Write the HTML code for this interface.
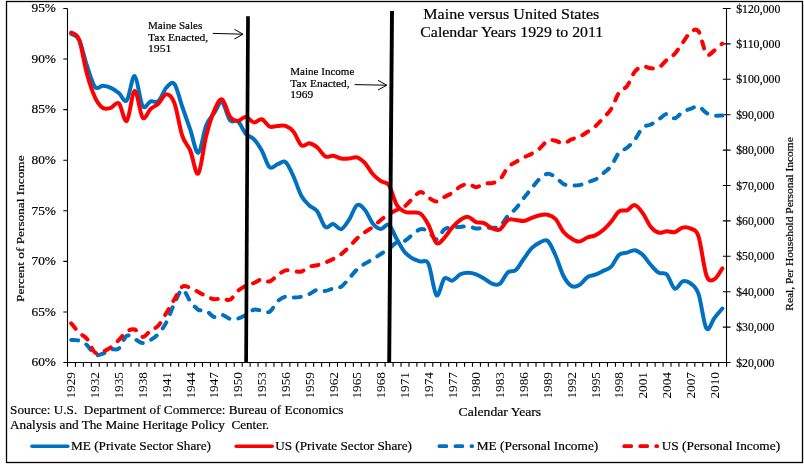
<!DOCTYPE html><html><head><meta charset="utf-8"><title>Maine versus United States</title>
<style>html,body{margin:0;padding:0;background:#fff;}svg{display:block;}text{font-family:'Liberation Serif', 'Times New Roman', serif;fill:#000;stroke:#000;stroke-width:0.2px;}</style></head><body>
<svg width="804" height="464" viewBox="0 0 804 464">
<rect x="0" y="0" width="804" height="464" fill="#fff"/>
<rect x="6.5" y="1.5" width="796" height="461" fill="none" stroke="#000" stroke-width="1.3"/>
<path d="M67.5,8.5 V362.5 M63.3,8.50 H67.5 M63.3,59.07 H67.5 M63.3,109.64 H67.5 M63.3,160.21 H67.5 M63.3,210.79 H67.5 M63.3,261.36 H67.5 M63.3,311.93 H67.5 M63.3,362.50 H67.5 M63.3,362.5 H730.5 M67.50,362.5 V366.7 M75.44,362.5 V366.7 M83.38,362.5 V366.7 M91.32,362.5 V366.7 M99.26,362.5 V366.7 M107.20,362.5 V366.7 M115.15,362.5 V366.7 M123.09,362.5 V366.7 M131.03,362.5 V366.7 M138.97,362.5 V366.7 M146.91,362.5 V366.7 M154.85,362.5 V366.7 M162.79,362.5 V366.7 M170.73,362.5 V366.7 M178.67,362.5 V366.7 M186.61,362.5 V366.7 M194.56,362.5 V366.7 M202.50,362.5 V366.7 M210.44,362.5 V366.7 M218.38,362.5 V366.7 M226.32,362.5 V366.7 M234.26,362.5 V366.7 M242.20,362.5 V366.7 M250.14,362.5 V366.7 M258.08,362.5 V366.7 M266.02,362.5 V366.7 M273.97,362.5 V366.7 M281.91,362.5 V366.7 M289.85,362.5 V366.7 M297.79,362.5 V366.7 M305.73,362.5 V366.7 M313.67,362.5 V366.7 M321.61,362.5 V366.7 M329.55,362.5 V366.7 M337.49,362.5 V366.7 M345.43,362.5 V366.7 M353.37,362.5 V366.7 M361.32,362.5 V366.7 M369.26,362.5 V366.7 M377.20,362.5 V366.7 M385.14,362.5 V366.7 M393.08,362.5 V366.7 M401.02,362.5 V366.7 M408.96,362.5 V366.7 M416.90,362.5 V366.7 M424.84,362.5 V366.7 M432.78,362.5 V366.7 M440.73,362.5 V366.7 M448.67,362.5 V366.7 M456.61,362.5 V366.7 M464.55,362.5 V366.7 M472.49,362.5 V366.7 M480.43,362.5 V366.7 M488.37,362.5 V366.7 M496.31,362.5 V366.7 M504.25,362.5 V366.7 M512.19,362.5 V366.7 M520.13,362.5 V366.7 M528.08,362.5 V366.7 M536.02,362.5 V366.7 M543.96,362.5 V366.7 M551.90,362.5 V366.7 M559.84,362.5 V366.7 M567.78,362.5 V366.7 M575.72,362.5 V366.7 M583.66,362.5 V366.7 M591.60,362.5 V366.7 M599.54,362.5 V366.7 M607.49,362.5 V366.7 M615.43,362.5 V366.7 M623.37,362.5 V366.7 M631.31,362.5 V366.7 M639.25,362.5 V366.7 M647.19,362.5 V366.7 M655.13,362.5 V366.7 M663.07,362.5 V366.7 M671.01,362.5 V366.7 M678.95,362.5 V366.7 M686.90,362.5 V366.7 M694.84,362.5 V366.7 M702.78,362.5 V366.7 M710.72,362.5 V366.7 M718.66,362.5 V366.7 M726.60,362.5 V366.7 M726.5,8.5 V362.5 M722.8,8.50 H730.6 M722.8,43.90 H730.6 M722.8,79.30 H730.6 M722.8,114.70 H730.6 M722.8,150.10 H730.6 M722.8,185.50 H730.6 M722.8,220.90 H730.6 M722.8,256.30 H730.6 M722.8,291.70 H730.6 M722.8,327.10 H730.6 M722.8,362.50 H730.6" stroke="#000" stroke-width="1.1" fill="none"/>
<text x="56" y="12.30" font-size="13.3" text-anchor="end" textLength="24.5" lengthAdjust="spacingAndGlyphs">95%</text>
<text x="56" y="62.87" font-size="13.3" text-anchor="end" textLength="24.5" lengthAdjust="spacingAndGlyphs">90%</text>
<text x="56" y="113.44" font-size="13.3" text-anchor="end" textLength="24.5" lengthAdjust="spacingAndGlyphs">85%</text>
<text x="56" y="164.01" font-size="13.3" text-anchor="end" textLength="24.5" lengthAdjust="spacingAndGlyphs">80%</text>
<text x="56" y="214.59" font-size="13.3" text-anchor="end" textLength="24.5" lengthAdjust="spacingAndGlyphs">75%</text>
<text x="56" y="265.16" font-size="13.3" text-anchor="end" textLength="24.5" lengthAdjust="spacingAndGlyphs">70%</text>
<text x="56" y="315.73" font-size="13.3" text-anchor="end" textLength="24.5" lengthAdjust="spacingAndGlyphs">65%</text>
<text x="56" y="366.30" font-size="13.3" text-anchor="end" textLength="24.5" lengthAdjust="spacingAndGlyphs">60%</text>
<text x="736.2" y="12.50" font-size="13.3" textLength="44.2" lengthAdjust="spacingAndGlyphs">$120,000</text>
<text x="736.2" y="47.90" font-size="13.3" textLength="44.2" lengthAdjust="spacingAndGlyphs">$110,000</text>
<text x="736.2" y="83.30" font-size="13.3" textLength="44.2" lengthAdjust="spacingAndGlyphs">$100,000</text>
<text x="736.2" y="118.70" font-size="13.3" textLength="38.2" lengthAdjust="spacingAndGlyphs">$90,000</text>
<text x="736.2" y="154.10" font-size="13.3" textLength="38.2" lengthAdjust="spacingAndGlyphs">$80,000</text>
<text x="736.2" y="189.50" font-size="13.3" textLength="38.2" lengthAdjust="spacingAndGlyphs">$70,000</text>
<text x="736.2" y="224.90" font-size="13.3" textLength="38.2" lengthAdjust="spacingAndGlyphs">$60,000</text>
<text x="736.2" y="260.30" font-size="13.3" textLength="38.2" lengthAdjust="spacingAndGlyphs">$50,000</text>
<text x="736.2" y="295.70" font-size="13.3" textLength="38.2" lengthAdjust="spacingAndGlyphs">$40,000</text>
<text x="736.2" y="331.10" font-size="13.3" textLength="38.2" lengthAdjust="spacingAndGlyphs">$30,000</text>
<text x="736.2" y="366.50" font-size="13.3" textLength="38.2" lengthAdjust="spacingAndGlyphs">$20,000</text>
<text transform="translate(71.17,372) rotate(-90)" font-family="&#39;DejaVu Sans&#39;, &#39;Liberation Sans&#39;, sans-serif" font-size="12" style="stroke:none" text-anchor="end" textLength="26.5" lengthAdjust="spacingAndGlyphs" x="0" y="4.3">1929</text>
<text transform="translate(94.99,372) rotate(-90)" font-family="&#39;DejaVu Sans&#39;, &#39;Liberation Sans&#39;, sans-serif" font-size="12" style="stroke:none" text-anchor="end" textLength="26.5" lengthAdjust="spacingAndGlyphs" x="0" y="4.3">1932</text>
<text transform="translate(118.82,372) rotate(-90)" font-family="&#39;DejaVu Sans&#39;, &#39;Liberation Sans&#39;, sans-serif" font-size="12" style="stroke:none" text-anchor="end" textLength="26.5" lengthAdjust="spacingAndGlyphs" x="0" y="4.3">1935</text>
<text transform="translate(142.64,372) rotate(-90)" font-family="&#39;DejaVu Sans&#39;, &#39;Liberation Sans&#39;, sans-serif" font-size="12" style="stroke:none" text-anchor="end" textLength="26.5" lengthAdjust="spacingAndGlyphs" x="0" y="4.3">1938</text>
<text transform="translate(166.46,372) rotate(-90)" font-family="&#39;DejaVu Sans&#39;, &#39;Liberation Sans&#39;, sans-serif" font-size="12" style="stroke:none" text-anchor="end" textLength="26.5" lengthAdjust="spacingAndGlyphs" x="0" y="4.3">1941</text>
<text transform="translate(190.28,372) rotate(-90)" font-family="&#39;DejaVu Sans&#39;, &#39;Liberation Sans&#39;, sans-serif" font-size="12" style="stroke:none" text-anchor="end" textLength="26.5" lengthAdjust="spacingAndGlyphs" x="0" y="4.3">1944</text>
<text transform="translate(214.11,372) rotate(-90)" font-family="&#39;DejaVu Sans&#39;, &#39;Liberation Sans&#39;, sans-serif" font-size="12" style="stroke:none" text-anchor="end" textLength="26.5" lengthAdjust="spacingAndGlyphs" x="0" y="4.3">1947</text>
<text transform="translate(237.93,372) rotate(-90)" font-family="&#39;DejaVu Sans&#39;, &#39;Liberation Sans&#39;, sans-serif" font-size="12" style="stroke:none" text-anchor="end" textLength="26.5" lengthAdjust="spacingAndGlyphs" x="0" y="4.3">1950</text>
<text transform="translate(261.75,372) rotate(-90)" font-family="&#39;DejaVu Sans&#39;, &#39;Liberation Sans&#39;, sans-serif" font-size="12" style="stroke:none" text-anchor="end" textLength="26.5" lengthAdjust="spacingAndGlyphs" x="0" y="4.3">1953</text>
<text transform="translate(285.58,372) rotate(-90)" font-family="&#39;DejaVu Sans&#39;, &#39;Liberation Sans&#39;, sans-serif" font-size="12" style="stroke:none" text-anchor="end" textLength="26.5" lengthAdjust="spacingAndGlyphs" x="0" y="4.3">1956</text>
<text transform="translate(309.40,372) rotate(-90)" font-family="&#39;DejaVu Sans&#39;, &#39;Liberation Sans&#39;, sans-serif" font-size="12" style="stroke:none" text-anchor="end" textLength="26.5" lengthAdjust="spacingAndGlyphs" x="0" y="4.3">1959</text>
<text transform="translate(333.22,372) rotate(-90)" font-family="&#39;DejaVu Sans&#39;, &#39;Liberation Sans&#39;, sans-serif" font-size="12" style="stroke:none" text-anchor="end" textLength="26.5" lengthAdjust="spacingAndGlyphs" x="0" y="4.3">1962</text>
<text transform="translate(357.05,372) rotate(-90)" font-family="&#39;DejaVu Sans&#39;, &#39;Liberation Sans&#39;, sans-serif" font-size="12" style="stroke:none" text-anchor="end" textLength="26.5" lengthAdjust="spacingAndGlyphs" x="0" y="4.3">1965</text>
<text transform="translate(380.87,372) rotate(-90)" font-family="&#39;DejaVu Sans&#39;, &#39;Liberation Sans&#39;, sans-serif" font-size="12" style="stroke:none" text-anchor="end" textLength="26.5" lengthAdjust="spacingAndGlyphs" x="0" y="4.3">1968</text>
<text transform="translate(404.69,372) rotate(-90)" font-family="&#39;DejaVu Sans&#39;, &#39;Liberation Sans&#39;, sans-serif" font-size="12" style="stroke:none" text-anchor="end" textLength="26.5" lengthAdjust="spacingAndGlyphs" x="0" y="4.3">1971</text>
<text transform="translate(428.51,372) rotate(-90)" font-family="&#39;DejaVu Sans&#39;, &#39;Liberation Sans&#39;, sans-serif" font-size="12" style="stroke:none" text-anchor="end" textLength="26.5" lengthAdjust="spacingAndGlyphs" x="0" y="4.3">1974</text>
<text transform="translate(452.34,372) rotate(-90)" font-family="&#39;DejaVu Sans&#39;, &#39;Liberation Sans&#39;, sans-serif" font-size="12" style="stroke:none" text-anchor="end" textLength="26.5" lengthAdjust="spacingAndGlyphs" x="0" y="4.3">1977</text>
<text transform="translate(476.16,372) rotate(-90)" font-family="&#39;DejaVu Sans&#39;, &#39;Liberation Sans&#39;, sans-serif" font-size="12" style="stroke:none" text-anchor="end" textLength="26.5" lengthAdjust="spacingAndGlyphs" x="0" y="4.3">1980</text>
<text transform="translate(499.98,372) rotate(-90)" font-family="&#39;DejaVu Sans&#39;, &#39;Liberation Sans&#39;, sans-serif" font-size="12" style="stroke:none" text-anchor="end" textLength="26.5" lengthAdjust="spacingAndGlyphs" x="0" y="4.3">1983</text>
<text transform="translate(523.81,372) rotate(-90)" font-family="&#39;DejaVu Sans&#39;, &#39;Liberation Sans&#39;, sans-serif" font-size="12" style="stroke:none" text-anchor="end" textLength="26.5" lengthAdjust="spacingAndGlyphs" x="0" y="4.3">1986</text>
<text transform="translate(547.63,372) rotate(-90)" font-family="&#39;DejaVu Sans&#39;, &#39;Liberation Sans&#39;, sans-serif" font-size="12" style="stroke:none" text-anchor="end" textLength="26.5" lengthAdjust="spacingAndGlyphs" x="0" y="4.3">1989</text>
<text transform="translate(571.45,372) rotate(-90)" font-family="&#39;DejaVu Sans&#39;, &#39;Liberation Sans&#39;, sans-serif" font-size="12" style="stroke:none" text-anchor="end" textLength="26.5" lengthAdjust="spacingAndGlyphs" x="0" y="4.3">1992</text>
<text transform="translate(595.27,372) rotate(-90)" font-family="&#39;DejaVu Sans&#39;, &#39;Liberation Sans&#39;, sans-serif" font-size="12" style="stroke:none" text-anchor="end" textLength="26.5" lengthAdjust="spacingAndGlyphs" x="0" y="4.3">1995</text>
<text transform="translate(619.10,372) rotate(-90)" font-family="&#39;DejaVu Sans&#39;, &#39;Liberation Sans&#39;, sans-serif" font-size="12" style="stroke:none" text-anchor="end" textLength="26.5" lengthAdjust="spacingAndGlyphs" x="0" y="4.3">1998</text>
<text transform="translate(642.92,372) rotate(-90)" font-family="&#39;DejaVu Sans&#39;, &#39;Liberation Sans&#39;, sans-serif" font-size="12" style="stroke:none" text-anchor="end" textLength="26.5" lengthAdjust="spacingAndGlyphs" x="0" y="4.3">2001</text>
<text transform="translate(666.74,372) rotate(-90)" font-family="&#39;DejaVu Sans&#39;, &#39;Liberation Sans&#39;, sans-serif" font-size="12" style="stroke:none" text-anchor="end" textLength="26.5" lengthAdjust="spacingAndGlyphs" x="0" y="4.3">2004</text>
<text transform="translate(690.57,372) rotate(-90)" font-family="&#39;DejaVu Sans&#39;, &#39;Liberation Sans&#39;, sans-serif" font-size="12" style="stroke:none" text-anchor="end" textLength="26.5" lengthAdjust="spacingAndGlyphs" x="0" y="4.3">2007</text>
<text transform="translate(714.39,372) rotate(-90)" font-family="&#39;DejaVu Sans&#39;, &#39;Liberation Sans&#39;, sans-serif" font-size="12" style="stroke:none" text-anchor="end" textLength="26.5" lengthAdjust="spacingAndGlyphs" x="0" y="4.3">2010</text>
<path d="M71.17,340.00 C72.49,340.10 76.46,339.73 79.11,340.60 C81.76,341.47 84.41,342.87 87.05,345.20 C89.70,347.53 92.35,353.20 94.99,354.60 C97.64,356.00 100.29,354.47 102.93,353.60 C105.58,352.73 108.23,350.27 110.88,349.40 C113.52,348.53 116.17,350.67 118.82,348.40 C121.46,346.13 124.11,337.37 126.76,335.80 C129.40,334.23 132.05,337.78 134.70,339.00 C137.35,340.22 139.99,342.93 142.64,343.10 C145.29,343.27 147.93,341.57 150.58,340.00 C153.23,338.43 155.87,336.67 158.52,333.70 C161.17,330.73 163.82,327.25 166.46,322.20 C169.11,317.15 171.76,308.80 174.40,303.40 C177.05,298.00 179.70,290.15 182.34,289.80 C184.99,289.45 187.64,297.98 190.28,301.30 C192.93,304.62 195.58,308.13 198.23,309.70 C200.87,311.27 203.52,309.48 206.17,310.70 C208.81,311.92 211.46,316.30 214.11,317.00 C216.75,317.70 219.40,314.60 222.05,314.90 C224.70,315.20 227.34,318.20 229.99,318.80 C232.64,319.40 235.28,319.15 237.93,318.50 C240.58,317.85 243.22,316.37 245.87,314.90 C248.52,313.43 251.17,310.40 253.81,309.70 C256.46,309.00 259.11,310.35 261.75,310.70 C264.40,311.05 267.05,313.37 269.69,311.80 C272.34,310.23 274.99,303.82 277.64,301.30 C280.28,298.78 282.93,297.32 285.58,296.70 C288.22,296.08 290.87,297.60 293.52,297.60 C296.16,297.60 298.81,297.30 301.46,296.70 C304.11,296.10 306.75,295.15 309.40,294.00 C312.05,292.85 314.69,290.32 317.34,289.80 C319.99,289.28 322.63,291.13 325.28,290.90 C327.93,290.67 330.58,289.10 333.22,288.40 C335.87,287.70 338.52,288.37 341.16,286.70 C343.81,285.03 346.46,281.28 349.10,278.40 C351.75,275.52 354.40,271.87 357.05,269.40 C359.69,266.93 362.34,265.30 364.99,263.60 C367.63,261.90 370.28,260.80 372.93,259.20 C375.57,257.60 378.22,255.75 380.87,254.00 C383.52,252.25 386.16,250.62 388.81,248.70 C391.46,246.78 394.10,243.78 396.75,242.50 C399.40,241.22 402.04,242.33 404.69,241.00 C407.34,239.67 409.98,236.47 412.63,234.50 C415.28,232.53 417.93,229.72 420.57,229.20 C423.22,228.68 425.87,229.72 428.51,231.40 C431.16,233.08 433.81,239.63 436.45,239.30 C439.10,238.97 441.75,231.40 444.40,229.40 C447.04,227.40 449.69,227.72 452.34,227.30 C454.98,226.88 457.63,227.07 460.28,226.90 C462.92,226.73 465.57,226.05 468.22,226.30 C470.87,226.55 473.51,228.17 476.16,228.40 C478.81,228.63 481.45,227.82 484.10,227.70 C486.75,227.58 489.39,227.93 492.04,227.70 C494.69,227.47 497.34,228.28 499.98,226.30 C502.63,224.32 505.28,218.77 507.92,215.80 C510.57,212.83 513.22,211.47 515.86,208.50 C518.51,205.53 521.16,201.38 523.81,198.00 C526.45,194.62 529.10,191.40 531.75,188.20 C534.39,185.00 537.04,181.20 539.69,178.80 C542.33,176.40 544.98,174.07 547.63,173.80 C550.28,173.53 552.92,175.50 555.57,177.20 C558.22,178.90 560.86,182.63 563.51,184.00 C566.16,185.37 568.80,185.22 571.45,185.40 C574.10,185.58 576.75,185.63 579.39,185.10 C582.04,184.57 584.69,183.12 587.33,182.20 C589.98,181.28 592.63,181.08 595.27,179.60 C597.92,178.12 600.57,175.57 603.22,173.30 C605.86,171.03 608.51,169.48 611.16,166.00 C613.80,162.52 616.45,155.43 619.10,152.40 C621.74,149.37 624.39,149.97 627.04,147.80 C629.68,145.63 632.33,142.80 634.98,139.40 C637.63,136.00 640.27,129.88 642.92,127.40 C645.57,124.92 648.21,125.85 650.86,124.50 C653.51,123.15 656.15,121.05 658.80,119.30 C661.45,117.55 664.10,114.18 666.74,114.00 C669.39,113.82 672.04,118.55 674.68,118.20 C677.33,117.85 679.98,113.47 682.62,111.90 C685.27,110.33 687.92,109.73 690.57,108.80 C693.21,107.87 695.86,105.60 698.51,106.30 C701.15,107.00 703.80,111.47 706.45,113.00 C709.09,114.53 711.74,115.08 714.39,115.50 C717.04,115.92 721.01,115.50 722.33,115.50" fill="none" stroke="#0070c0" stroke-width="4.0" stroke-linecap="round" stroke-linejoin="round" stroke-dasharray="7 9.2"/>
<path d="M71.17,323.30 C72.49,324.87 76.46,330.08 79.11,332.70 C81.76,335.32 84.41,335.70 87.05,339.00 C89.70,342.30 92.35,350.42 94.99,352.50 C97.64,354.58 100.29,352.37 102.93,351.50 C105.58,350.63 108.23,349.22 110.88,347.30 C113.52,345.38 116.17,342.62 118.82,340.00 C121.46,337.38 124.11,333.35 126.76,331.60 C129.40,329.85 132.05,328.62 134.70,329.50 C137.35,330.38 139.99,336.72 142.64,336.90 C145.29,337.08 147.93,332.52 150.58,330.60 C153.23,328.68 155.87,328.37 158.52,325.40 C161.17,322.43 163.82,317.15 166.46,312.80 C169.11,308.45 171.76,303.65 174.40,299.30 C177.05,294.95 179.70,288.62 182.34,286.70 C184.99,284.78 187.64,286.92 190.28,287.80 C192.93,288.68 195.58,290.62 198.23,292.00 C200.87,293.38 203.52,294.88 206.17,296.10 C208.81,297.32 211.46,298.95 214.11,299.30 C216.75,299.65 219.40,298.12 222.05,298.20 C224.70,298.28 227.34,301.02 229.99,299.80 C232.64,298.58 235.28,293.25 237.93,290.90 C240.58,288.55 243.22,287.02 245.87,285.70 C248.52,284.38 251.17,284.05 253.81,283.00 C256.46,281.95 259.11,279.65 261.75,279.40 C264.40,279.15 267.05,282.22 269.69,281.50 C272.34,280.78 274.99,276.95 277.64,275.10 C280.28,273.25 282.93,271.08 285.58,270.40 C288.22,269.72 290.87,270.82 293.52,271.00 C296.16,271.18 298.81,272.22 301.46,271.50 C304.11,270.78 306.75,267.75 309.40,266.70 C312.05,265.65 314.69,265.90 317.34,265.20 C319.99,264.50 322.63,263.53 325.28,262.50 C327.93,261.47 330.58,260.38 333.22,259.00 C335.87,257.62 338.52,256.22 341.16,254.20 C343.81,252.18 346.46,249.52 349.10,246.90 C351.75,244.28 354.40,240.95 357.05,238.50 C359.69,236.05 362.34,234.13 364.99,232.20 C367.63,230.27 370.28,228.93 372.93,226.90 C375.57,224.87 378.22,222.12 380.87,220.00 C383.52,217.88 386.16,215.87 388.81,214.20 C391.46,212.53 394.10,211.30 396.75,210.00 C399.40,208.70 402.04,208.32 404.69,206.40 C407.34,204.48 409.98,200.90 412.63,198.50 C415.28,196.10 417.93,192.15 420.57,192.00 C423.22,191.85 425.87,196.00 428.51,197.60 C431.16,199.20 433.81,201.70 436.45,201.60 C439.10,201.50 441.75,198.47 444.40,197.00 C447.04,195.53 449.69,194.53 452.34,192.80 C454.98,191.07 457.63,188.10 460.28,186.60 C462.92,185.10 465.57,183.70 468.22,183.80 C470.87,183.90 473.51,187.25 476.16,187.20 C478.81,187.15 481.45,184.18 484.10,183.50 C486.75,182.82 489.39,183.78 492.04,183.10 C494.69,182.42 497.34,182.03 499.98,179.40 C502.63,176.77 505.28,170.20 507.92,167.30 C510.57,164.40 513.22,163.65 515.86,162.00 C518.51,160.35 521.16,158.78 523.81,157.40 C526.45,156.02 529.10,155.18 531.75,153.70 C534.39,152.22 537.04,150.67 539.69,148.50 C542.33,146.33 544.98,142.00 547.63,140.70 C550.28,139.40 552.92,140.22 555.57,140.70 C558.22,141.18 560.86,143.82 563.51,143.60 C566.16,143.38 568.80,140.53 571.45,139.40 C574.10,138.27 576.75,138.03 579.39,136.80 C582.04,135.57 584.69,133.75 587.33,132.00 C589.98,130.25 592.63,128.63 595.27,126.30 C597.92,123.97 600.57,120.88 603.22,118.00 C605.86,115.12 608.51,113.25 611.16,109.00 C613.80,104.75 616.45,96.33 619.10,92.50 C621.74,88.67 624.39,89.50 627.04,86.00 C629.68,82.50 632.33,74.77 634.98,71.50 C637.63,68.23 640.27,66.93 642.92,66.40 C645.57,65.87 648.21,68.12 650.86,68.30 C653.51,68.48 656.15,68.88 658.80,67.50 C661.45,66.12 664.10,62.27 666.74,60.00 C669.39,57.73 672.04,56.77 674.68,53.90 C677.33,51.03 679.98,46.38 682.62,42.80 C685.27,39.22 687.92,34.32 690.57,32.40 C693.21,30.48 695.86,27.70 698.51,31.30 C701.15,34.90 703.80,50.80 706.45,54.00 C709.09,57.20 711.74,52.25 714.39,50.50 C717.04,48.75 721.01,44.67 722.33,43.50" fill="none" stroke="#ff0000" stroke-width="4.0" stroke-linecap="round" stroke-linejoin="round" stroke-dasharray="7 9.2"/>
<path d="M71.17,34.00 C72.49,34.97 76.46,34.47 79.11,39.80 C81.76,45.13 84.41,58.15 87.05,66.00 C89.70,73.85 92.35,83.60 94.99,86.90 C97.64,90.20 100.29,85.63 102.93,85.80 C105.58,85.97 108.23,86.70 110.88,87.90 C113.52,89.10 116.17,90.92 118.82,93.00 C121.46,95.08 124.11,103.23 126.76,100.40 C129.40,97.57 132.05,75.07 134.70,76.00 C137.35,76.93 139.99,101.75 142.64,106.00 C145.29,110.25 147.93,102.33 150.58,101.50 C153.23,100.67 155.87,103.33 158.52,101.00 C161.17,98.67 163.82,90.33 166.46,87.50 C169.11,84.67 171.76,80.75 174.40,84.00 C177.05,87.25 179.70,99.38 182.34,107.00 C184.99,114.62 187.64,122.08 190.28,129.70 C192.93,137.32 195.58,153.40 198.23,152.70 C200.87,152.00 203.52,132.12 206.17,125.50 C208.81,118.88 211.46,116.83 214.11,113.00 C216.75,109.17 219.40,101.28 222.05,102.50 C224.70,103.72 227.34,117.17 229.99,120.30 C232.64,123.43 235.28,119.03 237.93,121.30 C240.58,123.57 243.22,130.93 245.87,133.90 C248.52,136.87 251.17,136.32 253.81,139.10 C256.46,141.88 259.11,145.90 261.75,150.60 C264.40,155.30 267.05,165.03 269.69,167.30 C272.34,169.57 274.99,165.07 277.64,164.20 C280.28,163.33 282.93,160.05 285.58,162.10 C288.22,164.15 290.87,170.85 293.52,176.50 C296.16,182.15 298.81,191.17 301.46,196.00 C304.11,200.83 306.75,202.92 309.40,205.50 C312.05,208.08 314.69,207.92 317.34,211.50 C319.99,215.08 322.63,224.93 325.28,227.00 C327.93,229.07 330.58,223.55 333.22,223.90 C335.87,224.25 338.52,229.80 341.16,229.10 C343.81,228.40 346.46,223.70 349.10,219.70 C351.75,215.70 354.40,206.72 357.05,205.10 C359.69,203.48 362.34,206.90 364.99,210.00 C367.63,213.10 370.28,220.53 372.93,223.70 C375.57,226.87 378.22,228.82 380.87,229.00 C383.52,229.18 386.16,223.13 388.81,224.80 C391.46,226.47 394.10,234.47 396.75,239.00 C399.40,243.53 402.04,248.75 404.69,252.00 C407.34,255.25 409.98,256.92 412.63,258.50 C415.28,260.08 417.93,260.58 420.57,261.50 C423.22,262.42 425.87,258.38 428.51,264.00 C431.16,269.62 433.81,292.78 436.45,295.20 C439.10,297.62 441.75,280.93 444.40,278.50 C447.04,276.07 449.69,281.30 452.34,280.60 C454.98,279.90 457.63,275.62 460.28,274.30 C462.92,272.98 465.57,272.70 468.22,272.70 C470.87,272.70 473.51,273.33 476.16,274.30 C478.81,275.27 481.45,276.93 484.10,278.50 C486.75,280.07 489.39,282.83 492.04,283.70 C494.69,284.57 497.34,285.62 499.98,283.70 C502.63,281.78 505.28,274.47 507.92,272.20 C510.57,269.93 513.22,272.35 515.86,270.10 C518.51,267.85 521.16,262.35 523.81,258.70 C526.45,255.05 529.10,250.88 531.75,248.20 C534.39,245.52 537.04,243.82 539.69,242.60 C542.33,241.38 544.98,238.75 547.63,240.90 C550.28,243.05 552.92,249.65 555.57,255.50 C558.22,261.35 560.86,270.92 563.51,276.00 C566.16,281.08 568.80,284.50 571.45,286.00 C574.10,287.50 576.75,286.47 579.39,285.00 C582.04,283.53 584.69,278.92 587.33,277.20 C589.98,275.48 592.63,275.75 595.27,274.70 C597.92,273.65 600.57,272.23 603.22,270.90 C605.86,269.57 608.51,269.40 611.16,266.70 C613.80,264.00 616.45,257.05 619.10,254.70 C621.74,252.35 624.39,253.35 627.04,252.60 C629.68,251.85 632.33,249.80 634.98,250.20 C637.63,250.60 640.27,252.53 642.92,255.00 C645.57,257.47 648.21,262.03 650.86,265.00 C653.51,267.97 656.15,271.23 658.80,272.80 C661.45,274.37 664.10,271.75 666.74,274.40 C669.39,277.05 672.04,287.55 674.68,288.70 C677.33,289.85 679.98,282.18 682.62,281.30 C685.27,280.42 687.92,281.30 690.57,283.40 C693.21,285.50 695.86,286.38 698.51,293.90 C701.15,301.42 703.80,324.50 706.45,328.50 C709.09,332.50 711.74,321.23 714.39,317.90 C717.04,314.57 721.01,310.07 722.33,308.50" fill="none" stroke="#0070c0" stroke-width="4.0" stroke-linecap="round" stroke-linejoin="round"/>
<path d="M71.17,32.50 C72.49,33.72 76.46,32.83 79.11,39.80 C81.76,46.77 84.41,64.72 87.05,74.30 C89.70,83.88 92.35,91.68 94.99,97.30 C97.64,102.92 100.29,106.25 102.93,108.00 C105.58,109.75 108.23,108.58 110.88,107.80 C113.52,107.02 116.17,101.12 118.82,103.30 C121.46,105.48 124.11,122.95 126.76,120.90 C129.40,118.85 132.05,91.55 134.70,91.00 C137.35,90.45 139.99,114.60 142.64,117.60 C145.29,120.60 147.93,111.35 150.58,109.00 C153.23,106.65 155.87,105.97 158.52,103.50 C161.17,101.03 163.82,94.28 166.46,94.20 C169.11,94.12 171.76,96.03 174.40,103.00 C177.05,109.97 179.70,128.07 182.34,136.00 C184.99,143.93 187.64,144.33 190.28,150.60 C192.93,156.87 195.58,176.03 198.23,173.60 C200.87,171.17 203.52,146.45 206.17,136.00 C208.81,125.55 211.46,117.00 214.11,110.90 C216.75,104.80 219.40,98.45 222.05,99.40 C224.70,100.35 227.34,113.02 229.99,116.60 C232.64,120.18 235.28,120.88 237.93,120.90 C240.58,120.92 243.22,116.45 245.87,116.70 C248.52,116.95 251.17,121.97 253.81,122.40 C256.46,122.83 259.11,118.60 261.75,119.30 C264.40,120.00 267.05,125.50 269.69,126.60 C272.34,127.70 274.99,126.02 277.64,125.90 C280.28,125.78 282.93,124.92 285.58,125.90 C288.22,126.88 290.87,128.55 293.52,131.80 C296.16,135.05 298.81,143.48 301.46,145.40 C304.11,147.32 306.75,142.95 309.40,143.30 C312.05,143.65 314.69,145.32 317.34,147.50 C319.99,149.68 322.63,155.02 325.28,156.40 C327.93,157.78 330.58,155.45 333.22,155.80 C335.87,156.15 338.52,158.05 341.16,158.50 C343.81,158.95 346.46,158.70 349.10,158.50 C351.75,158.30 354.40,156.52 357.05,157.30 C359.69,158.08 362.34,160.37 364.99,163.20 C367.63,166.03 370.28,171.30 372.93,174.30 C375.57,177.30 378.22,179.42 380.87,181.20 C383.52,182.98 386.16,181.03 388.81,185.00 C391.46,188.97 394.10,200.55 396.75,205.00 C399.40,209.45 402.04,210.45 404.69,211.70 C407.34,212.95 409.98,212.15 412.63,212.50 C415.28,212.85 417.93,211.72 420.57,213.80 C423.22,215.88 425.87,220.13 428.51,225.00 C431.16,229.87 433.81,240.87 436.45,243.00 C439.10,245.13 441.75,240.42 444.40,237.80 C447.04,235.18 449.69,230.27 452.34,227.30 C454.98,224.33 457.63,221.73 460.28,220.00 C462.92,218.27 465.57,216.55 468.22,216.90 C470.87,217.25 473.51,221.07 476.16,222.10 C478.81,223.13 481.45,222.05 484.10,223.10 C486.75,224.15 489.39,227.35 492.04,228.40 C494.69,229.45 497.34,230.80 499.98,229.40 C502.63,228.00 505.28,221.57 507.92,220.00 C510.57,218.43 513.22,219.83 515.86,220.00 C518.51,220.17 521.16,221.35 523.81,221.00 C526.45,220.65 529.10,218.87 531.75,217.90 C534.39,216.93 537.04,215.72 539.69,215.20 C542.33,214.68 544.98,214.17 547.63,214.80 C550.28,215.43 552.92,216.13 555.57,219.00 C558.22,221.87 560.86,228.75 563.51,232.00 C566.16,235.25 568.80,236.90 571.45,238.50 C574.10,240.10 576.75,241.77 579.39,241.60 C582.04,241.43 584.69,238.53 587.33,237.50 C589.98,236.47 592.63,236.63 595.27,235.40 C597.92,234.17 600.57,232.37 603.22,230.10 C605.86,227.83 608.51,224.93 611.16,221.80 C613.80,218.67 616.45,213.22 619.10,211.30 C621.74,209.38 624.39,211.33 627.04,210.30 C629.68,209.27 632.33,204.58 634.98,205.10 C637.63,205.62 640.27,209.75 642.92,213.40 C645.57,217.05 648.21,223.78 650.86,227.00 C653.51,230.22 656.15,232.00 658.80,232.70 C661.45,233.40 664.10,231.28 666.74,231.20 C669.39,231.12 672.04,232.80 674.68,232.20 C677.33,231.60 679.98,228.22 682.62,227.60 C685.27,226.98 687.92,227.03 690.57,228.50 C693.21,229.97 695.86,228.57 698.51,236.40 C701.15,244.23 703.80,268.35 706.45,275.50 C709.09,282.65 711.74,280.50 714.39,279.30 C717.04,278.10 721.01,270.13 722.33,268.30" fill="none" stroke="#ff0000" stroke-width="4.0" stroke-linecap="round" stroke-linejoin="round"/>
<path d="M248,16.2 L246.1,362.5" stroke="#000" stroke-width="3.7"/>
<path d="M392,11 L389.2,362.5" stroke="#000" stroke-width="3.9"/>
<text x="148.0" y="29.0" font-size="11.0" textLength="54.2" lengthAdjust="spacingAndGlyphs">Maine Sales</text>
<text x="148.0" y="40.7" font-size="11.0" textLength="60.2" lengthAdjust="spacingAndGlyphs">Tax Enacted,</text>
<text x="148.0" y="52.4" font-size="11.0" textLength="23.4" lengthAdjust="spacingAndGlyphs">1951</text>
<text x="290.3" y="74.9" font-size="11.0" textLength="64.0" lengthAdjust="spacingAndGlyphs">Maine Income</text>
<text x="290.3" y="86.5" font-size="11.0" textLength="59.3" lengthAdjust="spacingAndGlyphs">Tax Enacted,</text>
<text x="290.3" y="98.1" font-size="11.0" textLength="22.8" lengthAdjust="spacingAndGlyphs">1969</text>
<path d="M212.8,33.4 L243,34.2 M234.4,29.3 L243,34.2 L234.4,39" stroke="#000" stroke-width="1" fill="none"/>
<path d="M354.7,84.6 L386.7,85.2 M378,80.3 L386.7,85.2 L378,90" stroke="#000" stroke-width="1" fill="none"/>
<text x="423.3" y="18.8" font-size="15.4" textLength="176" lengthAdjust="spacingAndGlyphs">Maine versus United States</text>
<text x="420.3" y="36.5" font-size="15.4" textLength="183" lengthAdjust="spacingAndGlyphs">Calendar Years 1929 to 2011</text>
<text transform="translate(23.9,301.9) rotate(-90)" font-size="11" textLength="146.5" lengthAdjust="spacingAndGlyphs">Percent of Personal Income</text>
<text transform="translate(793,310.7) rotate(-90)" font-size="10" textLength="173.5" lengthAdjust="spacingAndGlyphs">Real, Per Household Personal Income</text>
<text x="458.6" y="416.2" font-size="13.5" textLength="82.5" lengthAdjust="spacingAndGlyphs">Calendar Years</text>
<text x="10.1" y="414.1" font-size="13.3" textLength="333.2" lengthAdjust="spacingAndGlyphs">Source: U.S.&#160; Department of Commerce: Bureau of Economics</text>
<text x="10.1" y="429.1" font-size="13.3" textLength="259" lengthAdjust="spacingAndGlyphs">Analysis and The Maine Heritage Policy&#160; Center.</text>
<path d="M32,446.2 H67.8" stroke="#0070c0" stroke-width="3.6" stroke-linecap="round"/>
<text x="71" y="449.6" font-size="13.1" textLength="140" lengthAdjust="spacingAndGlyphs">ME (Private Sector Share)</text>
<path d="M236.2,446.2 H272.2" stroke="#ff0000" stroke-width="3.6" stroke-linecap="round"/>
<text x="275.2" y="449.6" font-size="13.1" textLength="136.8" lengthAdjust="spacingAndGlyphs">US (Private Sector Share)</text>
<path d="M439.4,446.2 H472.2" stroke="#0070c0" stroke-width="3.8" stroke-linecap="round" stroke-dasharray="7 9"/>
<text x="476.7" y="449.6" font-size="13.1" textLength="121.6" lengthAdjust="spacingAndGlyphs">ME (Personal Income)</text>
<path d="M624.2,446.2 H657.2" stroke="#ff0000" stroke-width="3.8" stroke-linecap="round" stroke-dasharray="7 9"/>
<text x="661.7" y="449.6" font-size="13.1" textLength="118.4" lengthAdjust="spacingAndGlyphs">US (Personal Income)</text>
</svg></body></html>
